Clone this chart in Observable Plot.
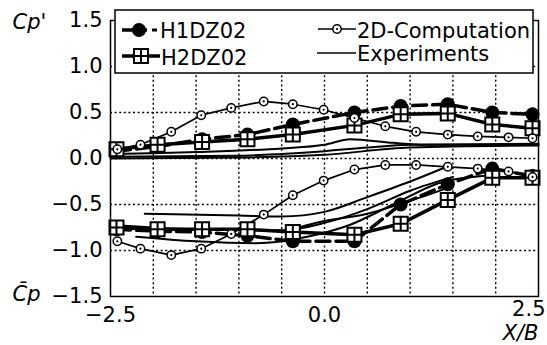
<!DOCTYPE html>
<html><head><meta charset="utf-8">
<script src="https://cdn.jsdelivr.net/npm/d3@7"></script>
<script src="https://cdn.jsdelivr.net/npm/@observablehq/plot@0.6"></script>
<style>body{margin:0;background:#fff} svg{display:block}</style>
</head><body><div id="chart"></div>
<script>
// ---- data ----
const markerX  = [-2.43, -1.95, -1.43, -0.90, -0.37, 0.35, 0.89, 1.44, 1.96, 2.43];
const h1Upper  = [0.08, 0.13, 0.21, 0.26, 0.37, 0.50, 0.57, 0.59, 0.50, 0.48];
const h1Lower  = [-0.77, -0.79, -0.80, -0.84, -0.90, -0.90, -0.50, -0.28, -0.11, -0.19];
const h2Upper  = [0.10, 0.15, 0.18, 0.21, 0.26, 0.36, 0.48, 0.49, 0.37, 0.33];
const h2Lower  = [-0.75, -0.77, -0.77, -0.77, -0.80, -0.83, -0.71, -0.45, -0.21, -0.21];
const compX    = [-2.42, -2.15, -1.79, -1.44, -1.09, -0.71, -0.37, -0.01, 0.35, 0.71, 1.07, 1.44, 1.79, 2.15, 2.43];
const compUpper= [0.10, 0.15, 0.29, 0.47, 0.55, 0.62, 0.59, 0.53, 0.44, 0.35, 0.29, 0.26, 0.24, 0.23, 0.22];
const compLower= [-0.90, -0.98, -1.05, -0.98, -0.82, -0.61, -0.40, -0.24, -0.12, -0.07, -0.07, -0.09, -0.11, -0.14, -0.20];
// experiments (several measured curves)
const expUA_x = [-2.5, -1.0, -0.5, 0.0, 0.5, 1.0, 2.5];
const expUA_y = [0.02, 0.03, 0.05, 0.08, 0.12, 0.15, 0.16];
const expUB_x = [-2.5, -1.5, -0.5, 0.0, 0.3, 0.8, 1.2, 2.5];
const expUB_y = [0.05, 0.07, 0.11, 0.15, 0.21, 0.17, 0.15, 0.15];
const expUC_x = [-2.5, -1.0, 0.0, 1.0, 2.5];
const expUC_y = [0.0, 0.01, 0.04, 0.12, 0.14];
const expLA_x = [-2.1, -1.0, -0.5, 0.0, 0.5, 1.0, 1.4];
const expLA_y = [-0.60, -0.62, -0.63, -0.58, -0.42, -0.25, -0.10];
const expLB_x = [-2.5, -1.5, -0.5, 0.0, 0.5, 1.0, 1.5];
const expLB_y = [-0.72, -0.77, -0.78, -0.70, -0.55, -0.35, -0.20];
const expLC_x = [-2.2, -1.5, -0.8, -0.2, 0.3, 0.8, 1.4, 2.0];
const expLC_y = [-0.85, -0.90, -0.92, -0.85, -0.72, -0.50, -0.25, -0.18];
const expLD_x = [-0.5, 0.0, 0.5, 1.0, 1.5];
const expLD_y = [-0.80, -0.68, -0.60, -0.46, -0.30];
// ticks & labels
const xTickLabels = [-2.5, 0.0];
const xTickEnd = [2.5];
const yTicks = [-1.5, -1.0, -0.5, 0.0, 0.5, 1.0, 1.5];
const gridXTicks = [-2.0, -1.5, -1.0, -0.5, 0.0, 0.5, 1.0, 1.5, 2.0];
const gridYTicks = [-1.0, -0.5, 0.0, 0.5, 1.0];
const legendLabels = ["H1DZ02", "H2DZ02", "2D-Computation", "Experiments"];

// ---- build tables ----
const rows = (xs, ys, s) => xs.map((x, i) => ({x, y: ys[i], s}));
const h1 = [...rows(markerX, h1Upper, "u"), ...rows(markerX, h1Lower, "l")];
const h2 = [...rows(markerX, h2Upper, "u"), ...rows(markerX, h2Lower, "l")];
const comp = [...rows(compX, compUpper, "u"), ...rows(compX, compLower, "l")];
const exp = [
  ...rows(expUA_x, expUA_y, "ua"), ...rows(expUB_x, expUB_y, "ub"), ...rows(expUC_x, expUC_y, "uc"),
  ...rows(expLA_x, expLA_y, "la"), ...rows(expLB_x, expLB_y, "lb"), ...rows(expLC_x, expLC_y, "lc"),
  ...rows(expLD_x, expLD_y, "ld")
];

const squareCross = {
  draw(ctx, size) {
    const s = Math.sqrt(size / Math.PI);
    ctx.moveTo(-s, -s); ctx.lineTo(s, -s); ctx.lineTo(s, s); ctx.lineTo(-s, s); ctx.closePath();
    ctx.moveTo(0, -s); ctx.lineTo(0, s);
    ctx.moveTo(-s, 0); ctx.lineTo(s, 0);
  }
};
const fmt = d3.format(".1f");
const font = "DejaVu Sans";
const grid = {stroke: "#000", strokeOpacity: 1, strokeDasharray: "2,2.6", strokeWidth: 1.4};

const plot = Plot.plot({
  width: 547, height: 345,
  marginLeft: 110, marginRight: 9, marginTop: 20, marginBottom: 49,
  style: {fontFamily: font, fontSize: "21px", color: "#000", background: "#fff", overflow: "visible"},
  x: {domain: [-2.5, 2.5], axis: null},
  y: {domain: [-1.5, 1.5]},
  marks: [
    Plot.gridX(gridXTicks, grid),
    Plot.gridY(gridYTicks, grid),
    Plot.line(exp, {x: "x", y: "y", z: "s", stroke: "#000", strokeWidth: 2, curve: "monotone-x"}),
    Plot.line(comp, {x: "x", y: "y", z: "s", stroke: "#000", strokeWidth: 1.7}),
    Plot.line(h1, {x: "x", y: "y", z: "s", stroke: "#000", strokeWidth: 3.5, strokeDasharray: "14,6"}),
    Plot.line(h2, {x: "x", y: "y", z: "s", stroke: "#000", strokeWidth: 3.5}),
    Plot.dot(h1, {x: "x", y: "y", r: 7, fill: "#000"}),
    Plot.dot(h2, {x: "x", y: "y", r: 7, symbol: squareCross, fill: "#fff", stroke: "#000", strokeWidth: 2}),
    Plot.dot(comp, {x: "x", y: "y", r: 4.2, fill: "#fff", stroke: "#000", strokeWidth: 1.5}),
    Plot.dot(comp, {x: "x", y: "y", r: 1.1, fill: "#000"}),
    Plot.frame({stroke: "#000", strokeWidth: 1.5}),
    Plot.axisY(yTicks, {tickSize: 0, tickPadding: 8, tickFormat: fmt, fontSize: 21, label: null}),
    Plot.text(xTickLabels, {x: d => d, y: () => -1.5, text: d => fmt(d), lineAnchor: "bottom", dy: 25, fontSize: 21}),
    Plot.text(xTickEnd, {x: d => d, y: () => -1.5, text: d => fmt(d), lineAnchor: "bottom", dy: 19, dx: 7, textAnchor: "end", fontSize: 21}),
    Plot.text(["Cp'"], {frameAnchor: "top-left", text: d => d, textAnchor: "start", lineAnchor: "bottom", dx: -98, dy: 8, fontStyle: "italic", fontSize: 21}),
    Plot.text(["C\u0304p"], {frameAnchor: "bottom-left", text: d => d, textAnchor: "start", lineAnchor: "bottom", dx: -98, dy: 4, fontStyle: "italic", fontSize: 21}),
    Plot.text(["X/B"], {frameAnchor: "bottom-right", text: d => d, textAnchor: "end", lineAnchor: "bottom", dx: 0, dy: 43, fontStyle: "italic", fontSize: 21})
  ]
});

// ---- legend (inside plot, top) ----
const svg = d3.select(plot);
const lg = svg.append("g").attr("font-family", font).attr("font-size", 21).attr("fill", "#000").attr("text-anchor", "start");
lg.append("rect").attr("x", 115).attr("y", 10).attr("width", 418).attr("height", 63)
  .attr("fill", "#fff").attr("stroke", "#000").attr("stroke-width", 1.5);
// H1DZ02
lg.append("line").attr("x1", 122).attr("x2", 147).attr("y1", 30).attr("y2", 30).attr("stroke", "#000").attr("stroke-width", 3.5);
lg.append("line").attr("x1", 152).attr("x2", 157).attr("y1", 30).attr("y2", 30).attr("stroke", "#000").attr("stroke-width", 3);
lg.append("circle").attr("cx", 139).attr("cy", 30).attr("r", 7).attr("fill", "#000");
lg.append("text").attr("x", 160).attr("y", 38).text(legendLabels[0]);
// H2DZ02
lg.append("line").attr("x1", 122).attr("x2", 160).attr("y1", 56).attr("y2", 56).attr("stroke", "#000").attr("stroke-width", 3.5);
lg.append("path").attr("transform", "translate(141,56)")
  .attr("d", "M-7,-7H7V7H-7Z M0,-7V7 M-7,0H7").attr("fill", "#fff").attr("stroke", "#000").attr("stroke-width", 2);
lg.append("text").attr("x", 161).attr("y", 65).text(legendLabels[1]);
// 2D-Computation
lg.append("line").attr("x1", 318).attr("x2", 356).attr("y1", 29).attr("y2", 29).attr("stroke", "#000").attr("stroke-width", 1.7);
lg.append("circle").attr("cx", 337).attr("cy", 29).attr("r", 4.2).attr("fill", "#fff").attr("stroke", "#000").attr("stroke-width", 1.5);
lg.append("circle").attr("cx", 337).attr("cy", 29).attr("r", 1.1).attr("fill", "#000");
lg.append("text").attr("x", 357).attr("y", 38).text(legendLabels[2]);
// Experiments
lg.append("line").attr("x1", 317).attr("x2", 356).attr("y1", 53).attr("y2", 53).attr("stroke", "#000").attr("stroke-width", 1.7);
lg.append("text").attr("x", 357).attr("y", 61).text(legendLabels[3]);

document.getElementById("chart").appendChild(plot);
</script>
</body></html>
